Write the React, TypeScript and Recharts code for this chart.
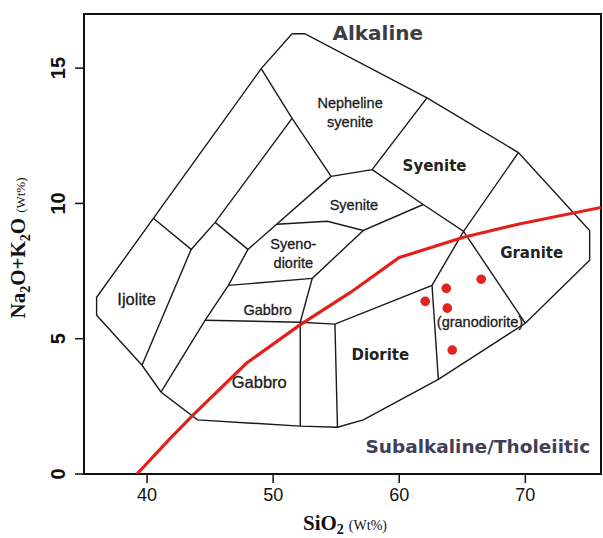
import React from "react";
import { ComposedChart, Scatter, XAxis, YAxis, ReferenceArea, Label } from "recharts";

type Pt = { x: number; y: number };
const pts = (rows: number[][]): Pt[] => rows.map(([x, y]) => ({ x, y }));

// TAS field outline (SiO2 wt%, Na2O+K2O wt%)
const OUTLINE = pts([
  [51.5, 16.27], [52.5, 16.27], [62.2, 13.9], [69.45, 11.88], [75.1, 9.0],
  [75.1, 7.9], [70.0, 5.57], [63.1, 3.5], [57.15, 2.0], [55.1, 1.73],
  [52.15, 1.77], [44.0, 2.0], [41.1, 3.03], [39.6, 4.02], [36.0, 5.87],
  [36.0, 6.53], [40.5, 9.45], [49.05, 14.98], [51.5, 16.27],
]);

// internal field boundaries
const BOUNDARIES = [
  [[49.05, 14.98], [51.5, 13.14], [54.6, 11.0]],
  [[54.6, 11.0], [57.85, 11.25], [62.2, 13.9]],
  [[57.85, 11.25], [61.9, 9.96], [65.1, 8.97], [69.45, 11.88]],
  [[51.5, 13.14], [45.4, 9.3], [43.5, 8.3], [39.6, 4.02]],
  [[40.5, 9.45], [43.5, 8.3]],
  [[45.4, 9.3], [48.0, 8.3]],
  [[54.6, 11.0], [48.0, 8.3], [46.45, 6.97], [44.6, 5.68], [41.1, 3.03]],
  [[50.3, 9.23], [54.3, 9.34], [57.15, 9.0], [61.9, 9.96]],
  [[57.15, 9.0], [53.1, 7.23], [52.15, 5.61], [52.15, 1.77]],
  [[46.45, 6.97], [53.1, 7.23]],
  [[44.6, 5.68], [52.15, 5.61], [54.9, 5.54], [62.6, 6.97], [65.1, 8.97]],
  [[54.9, 5.54], [55.1, 1.73]],
  [[62.6, 6.97], [63.1, 3.5]],
  [[65.1, 8.97], [70.0, 5.57]],
].map(pts);

// alkaline / subalkaline divide
const ALKALINE_DIVIDE = pts([
  [39.2, 0], [41.8, 1.3], [43.7, 2.2], [47.9, 4.1], [52.1, 5.5],
  [56.1, 6.7], [60.0, 8.0], [65.1, 8.75], [69.6, 9.25], [76.0, 9.85],
]);

const SAMPLES = pts([
  [62.06, 6.38], [63.73, 6.86], [63.81, 6.13], [66.5, 7.2], [64.2, 4.58],
]);

const X_TICKS = [40, 50, 60, 70];
const Y_TICKS = [0, 5, 10, 15];

const FIELD_NAMES = [
  { name: "Nepheline\nsyenite", x: 56.1, y: 13.36 },
  { name: "Syenite", x: 56.4, y: 9.93 },
  { name: "Syeno-\ndiorite", x: 51.6, y: 8.15 },
  { name: "Gabbro", x: 49.56, y: 6.05 },
  { name: "(granodiorite)", x: 66.4, y: 5.62 },
];
const FIELD_NAMES_LARGE = [
  { name: "Ijolite", x: 39.17, y: 6.48 },
  { name: "Gabbro", x: 48.9, y: 3.41 },
];
const FIELD_NAMES_BOLD = [
  { name: "Syenite", x: 62.8, y: 11.4 },
  { name: "Diorite", x: 58.5, y: 4.39 },
  { name: "Granite", x: 70.5, y: 8.18 },
];
const ALKALINE_NAME = [{ name: "Alkaline", x: 58.3, y: 16.3 }];
const SUBALKALINE_NAME = [{ name: "Subalkaline/Tholeiitic", x: 66.23, y: 1.0 }];

const SANS = "'Liberation Sans', Arial, sans-serif";
const WIDE_BOLD = "'DejaVu Sans', sans-serif";
const SERIF = "'Liberation Serif', 'Times New Roman', serif";

const Nothing = () => <g />;

const SampleDot = (props: any) => (
  <circle cx={props.cx} cy={props.cy} r={4.8} fill="#e2231f" />
);

function nameShape(font: { family: string; size: number; weight: string; color: string; stroke?: number; lineHeight?: number }) {
  return (props: any) => {
    const { cx, cy, payload } = props;
    const lines: string[] = payload.name.split("\n");
    const lh = font.lineHeight ?? font.size * 1.3;
    const top = cy - ((lines.length - 1) * lh) / 2;
    return (
      <text
        textAnchor="middle"
        fontFamily={font.family}
        fontSize={font.size}
        fontWeight={font.weight}
        fill={font.color}
        stroke={font.stroke ? font.color : "none"}
        strokeWidth={font.stroke ?? 0}
      >
        {lines.map((l, i) => (
          <tspan key={i} x={cx} y={top + i * lh} dominantBaseline="central">
            {l}
          </tspan>
        ))}
      </text>
    );
  };
}

const XTick = (props: any) => {
  const { x, y, payload } = props;
  return (
    <text x={x} y={y + 16} textAnchor="middle" fontFamily={SANS} fontSize={18} fill="#111">
      {payload.value}
    </text>
  );
};

const YTick = (props: any) => {
  const { x, y, payload } = props;
  const bx = x - 8;
  return (
    <text
      x={bx}
      y={y}
      transform={`rotate(-90, ${bx}, ${y})`}
      textAnchor="middle"
      fontFamily={SANS}
      fontWeight="bold"
      fontSize={20}
      fill="#111"
    >
      {payload.value}
    </text>
  );
};

const YTitle = () => (
  <text
    x={25}
    y={248}
    transform="rotate(-90, 25, 248)"
    textAnchor="middle"
    fontFamily={SERIF}
    fill="#111"
  >
    <tspan fontWeight="bold" fontSize={21}>Na</tspan>
    <tspan fontWeight="bold" fontSize={14} dy={5}>2</tspan>
    <tspan fontWeight="bold" fontSize={21} dy={-5}>O+K</tspan>
    <tspan fontWeight="bold" fontSize={14} dy={5}>2</tspan>
    <tspan fontWeight="bold" fontSize={21} dy={-5}>O</tspan>
    <tspan fontSize={13} dx={5}>(Wt%)</tspan>
  </text>
);

const XTitle = () => (
  <text x={303} y={530} textAnchor="start" fontFamily={SERIF} fill="#111">
    <tspan fontWeight="bold" fontSize={21}>SiO</tspan>
    <tspan fontWeight="bold" fontSize={14} dy={4}>2</tspan>
    <tspan fontSize={14} dx={5} dy={-4}>(Wt%)</tspan>
  </text>
);

const LINE = { stroke: "#1a1a1a", strokeWidth: 1.4 };

export default function App() {
  return (
    <div style={{ position: "absolute", left: 0, top: 0, width: 603, height: 538, background: "#fff" }}>
      <ComposedChart
        width={603}
        height={538}
        margin={{ top: 14, right: 2, bottom: 0, left: 0 }}
      >
        <XAxis
          type="number"
          dataKey="x"
          domain={[35, 76]}
          ticks={X_TICKS}
          allowDataOverflow
          height={64}
          axisLine={false}
          tickSize={9}
          tickMargin={2}
          tickLine={{ stroke: "#111", strokeWidth: 1.5 }}
          tick={<XTick />}
        >
          <Label content={() => <XTitle />} />
        </XAxis>
        <YAxis
          type="number"
          dataKey="y"
          domain={[0, 17]}
          ticks={Y_TICKS}
          allowDataOverflow
          width={84}
          axisLine={false}
          tickSize={9}
          tickMargin={2}
          tickLine={{ stroke: "#111", strokeWidth: 1.5 }}
          tick={<YTick />}
        >
          <Label content={() => <YTitle />} />
        </YAxis>

        <ReferenceArea x1={35} x2={76} y1={0} y2={17} fill="none" stroke="#111" strokeWidth={2} />

        <Scatter data={OUTLINE} line={LINE} shape={Nothing} isAnimationActive={false} />
        {BOUNDARIES.map((seg, i) => (
          <Scatter key={i} data={seg} line={LINE} shape={Nothing} isAnimationActive={false} />
        ))}

        <Scatter
          data={ALKALINE_DIVIDE}
          line={{ stroke: "#e3211c", strokeWidth: 3.2 }}
          shape={Nothing}
          isAnimationActive={false}
        />
        <Scatter data={SAMPLES} shape={SampleDot} isAnimationActive={false} />

        <Scatter
          data={FIELD_NAMES}
          shape={nameShape({ family: SANS, size: 14.5, weight: "normal", color: "#1b1b1b", stroke: 0.3, lineHeight: 19.5 })}
          isAnimationActive={false}
        />
        <Scatter
          data={FIELD_NAMES_LARGE}
          shape={nameShape({ family: SANS, size: 16.5, weight: "normal", color: "#1b1b1b", stroke: 0.3 })}
          isAnimationActive={false}
        />
        <Scatter
          data={FIELD_NAMES_BOLD}
          shape={nameShape({ family: WIDE_BOLD, size: 15, weight: "bold", color: "#222" })}
          isAnimationActive={false}
        />
        <Scatter
          data={ALKALINE_NAME}
          shape={nameShape({ family: WIDE_BOLD, size: 20, weight: "bold", color: "#3d3d44" })}
          isAnimationActive={false}
        />
        <Scatter
          data={SUBALKALINE_NAME}
          shape={nameShape({ family: WIDE_BOLD, size: 18.5, weight: "bold", color: "#423f58" })}
          isAnimationActive={false}
        />
      </ComposedChart>
    </div>
  );
}
